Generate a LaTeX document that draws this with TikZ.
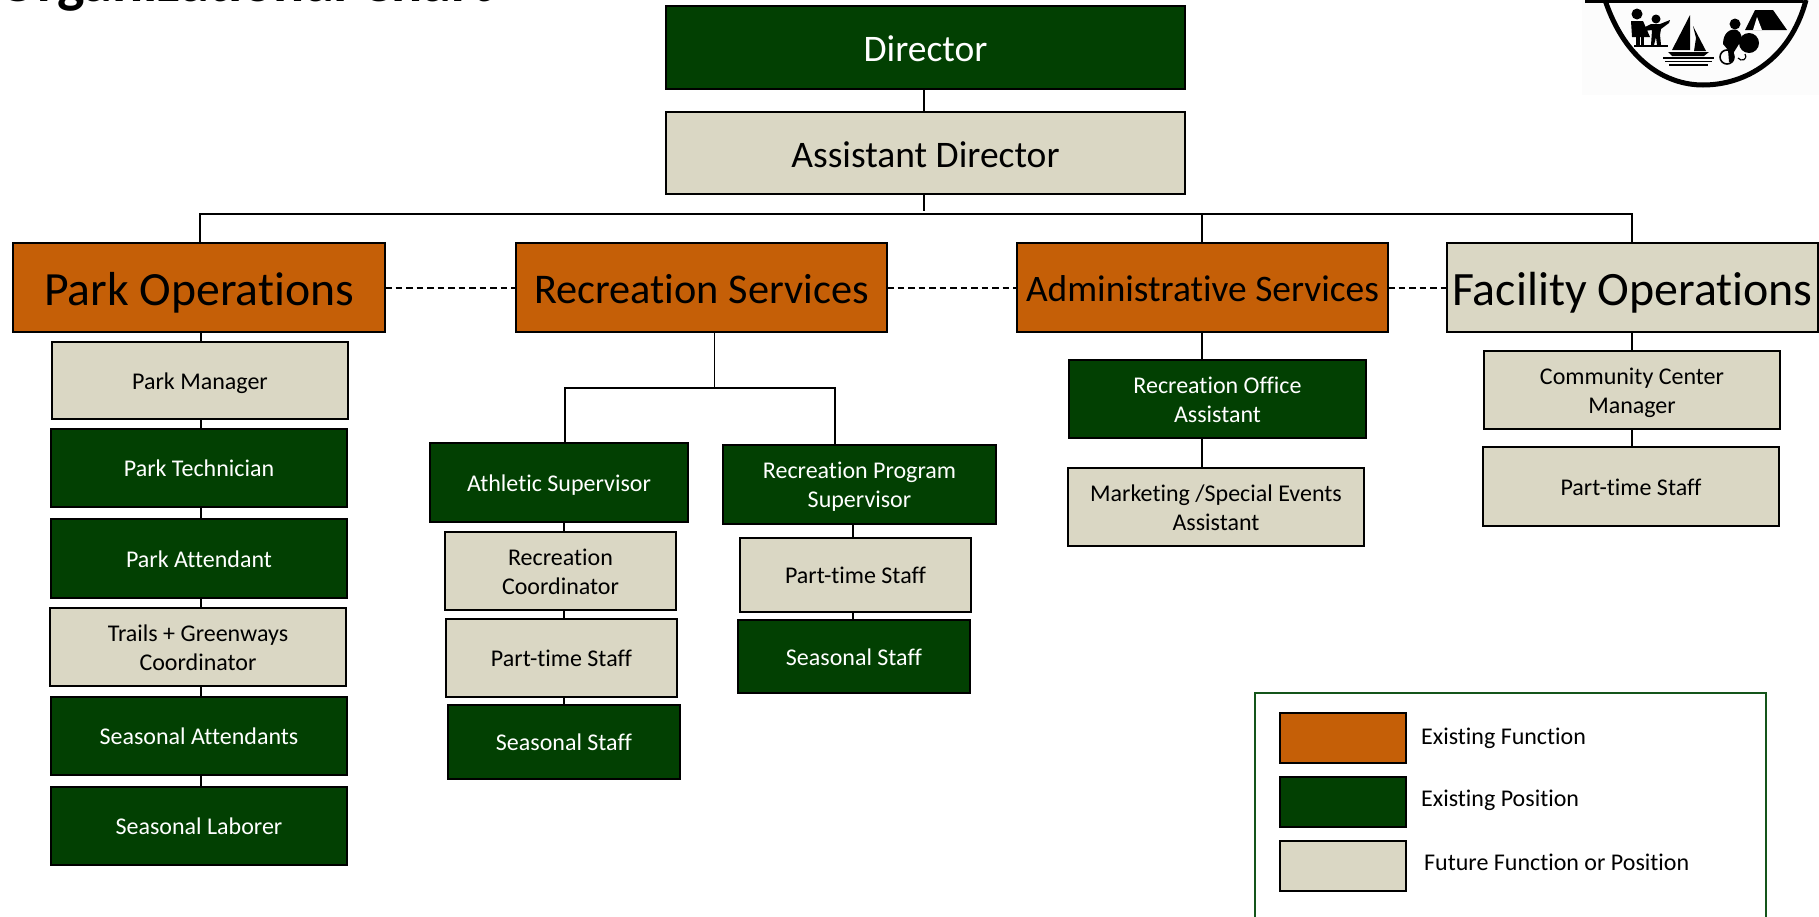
\documentclass[tikz,border=0pt]{standalone}
\usepackage{fontspec}
\setmainfont{Carlito}[Ligatures=NoCommon]
\definecolor{orangefn}{HTML}{C55F07}
\definecolor{greenpos}{HTML}{024002}
\definecolor{beigefut}{HTML}{DAD7C4}
\definecolor{legendline}{HTML}{14551A}
\newcommand\fsz[1]{\fontsize{#1}{#1}\selectfont}
\newcommand\orgbox[7]{\node[#2,minimum width={(#5-#3)*1pt},minimum height={(#6-#4)*1pt}] (#1) at ({(#3+#5)/2},{(#4+#6)/2}) {#7};}
\tikzset{
 base/.style={draw=black,line width=1.6pt,inner sep=0pt,outer sep=0pt,align=center,rectangle},
 bigtext/.style={font=\fsz{#1},text height={#1*.75pt},text depth=0pt},
 single/.style={text height=17pt,text depth=0pt},
 twoline/.style={text height=46.5pt,text depth=0pt},
 fnbox/.style={base,fill=orangefn,text=black},
 posbox/.style={base,fill=greenpos,text=white,font=\fontsize{24}{29}\selectfont,single},
 futbox/.style={base,fill=beigefut,text=black,font=\fontsize{24}{29}\selectfont,single},
 futbig/.style={base,fill=beigefut,text=black},
 posbig/.style={base,fill=greenpos,text=white},
 conn/.style={draw=black,line width=1.5pt},
 dashconn/.style={draw=black,line width=2pt,dash pattern=on 6.5pt off 4pt},
 legtext/.style={anchor=west,inner sep=0pt,font=\fontsize{24}{29}\selectfont,text=black,single},
}
\begin{document}
\begin{tikzpicture}[x=1pt,y=-1pt]
\clip (0,0) rectangle (1819,916);
% title
\node[anchor=base west,inner sep=0pt,font=\bfseries\fontsize{58}{58}\selectfont] (title) at (-2,1) {Organizational Chart};
% logo
\fill[black!1] (1582,0) rectangle (1819,95);
\fill[black] (1585,0) rectangle (1803,3);
\draw[line width=5pt] (1605,0) .. controls (1625,60) and (1665,85) .. (1703,85) .. controls (1745,85) and (1790,60) .. (1806,0);
\fill (1637,14) circle (5.5);
\fill (1631,21) -- (1643,21) -- (1650,37) -- (1632,37) -- cycle;
\fill (1636,37) rectangle (1640,46);
\fill (1641,37) rectangle (1644,46);
\fill (1634,45) rectangle (1668,47);
\fill (1656,19) circle (4.5);
\fill (1643,28) -- (1651,24) -- (1660,24) -- (1670,20) -- (1669,23) -- (1661,29) -- (1660,35) -- (1661,45) -- (1657,45) -- (1656,37) -- (1654,45) -- (1651,45) -- (1652,30) -- (1644,31) -- cycle;
\fill (1690,15) -- (1672,50) -- (1690,50) -- cycle;
\fill (1693,26) -- (1706,51) -- (1694,51) -- (1696,38) -- cycle;
\fill (1668,52) -- (1709,52) -- (1704,56) -- (1672,56) -- cycle;
\draw[line width=1.3pt] (1663,58) -- (1714,58) (1665,61.5) -- (1712,61.5) (1669,65) -- (1708,65);
\fill (1735,24) circle (5.5);
\fill (1723,44) .. controls (1723,33) and (1730,28) .. (1737,30) .. controls (1742,33) and (1743,38) .. (1739,44) -- (1734,52) -- (1733,62) -- (1729,62) -- (1728,50) -- cycle;
\fill (1749,43) circle (10);
\draw[line width=1.6pt] (1727,57) circle (7);
\draw[line width=1.2pt] (1745,54) .. controls (1748,60) and (1741,62) .. (1738,58);
\fill (1745,30) -- (1755,10) -- (1773,10) -- (1787,30) -- cycle;
\fill[white] (1753,30) -- (1757,17) -- (1762,30) -- cycle;
% top
\orgbox{director}{posbig,bigtext=37.5}{666}{6}{1185}{89}{Director}
\orgbox{asst}{futbig,bigtext=37.5}{666}{112}{1185}{194}{Assistant Director}
% functions
\orgbox{parkops}{fnbox,bigtext=47.7}{13}{243}{385}{332}{Park Operations}
\orgbox{recserv}{fnbox,bigtext=42.3}{516}{243}{887}{332}{Recreation Services}
\orgbox{admin}{fnbox,bigtext=37.4}{1017}{243}{1388}{332}{Administrative Services}
\orgbox{facility}{futbig,bigtext=47.9}{1447}{243}{1818}{332}{Facility Operations}
% park stack
\orgbox{parkmgr}{futbox}{52}{342}{348}{419}{Park Manager}
\orgbox{parktech}{posbox}{51}{429}{347}{507}{Park Technician}
\orgbox{parkatt}{posbox}{51}{519}{347}{598}{Park Attendant}
\orgbox{trails}{futbox,twoline}{50}{608}{346}{686}{Trails + Greenways\\Coordinator}
\orgbox{seasatt}{posbox}{51}{697}{347}{775}{Seasonal Attendants}
\orgbox{seaslab}{posbox}{51}{787}{347}{865}{Seasonal Laborer}
% recreation stacks
\orgbox{athletic}{posbox}{430}{443}{688}{522}{Athletic Supervisor}
\orgbox{reccoord}{futbox,twoline}{445}{532}{676}{610}{Recreation\\Coordinator}
\orgbox{ptone}{futbox}{446}{619}{677}{697}{Part-time Staff}
\orgbox{seasone}{posbox}{448}{705}{680}{779}{Seasonal Staff}
\orgbox{recprog}{posbox,twoline}{723}{445}{996}{524}{Recreation Program\\Supervisor}
\orgbox{pttwo}{futbox}{740}{538}{971}{612}{Part-time Staff}
\orgbox{seastwo}{posbox}{738}{620}{970}{693}{Seasonal Staff}
% admin stack
\orgbox{recoffice}{posbox,twoline}{1069}{360}{1366}{438}{Recreation Office\\Assistant}
\orgbox{marketing}{futbox,twoline}{1068}{468}{1364}{546}{Marketing /Special Events\\Assistant}
% facility stack
\orgbox{community}{futbox,twoline}{1484}{351}{1780}{429}{Community Center\\Manager}
\orgbox{ptthree}{futbox}{1483}{447}{1779}{526}{Part-time Staff}
% helper coordinates
\coordinate (busL) at (200,214);
\coordinate (busA) at (1202,214);
\coordinate (busR) at (1632,214);
\coordinate (trunkEnd) at (924,211);
\coordinate (recDrop) at (714,388);
\coordinate (recL) at (565,388);
\coordinate (recR) at (835,388);
\coordinate (xPark) at (201,0);
\coordinate (xAth) at (564,0);
\coordinate (xProg) at (853,0);
\coordinate (xFac) at (1632,0);
% connectors
\draw[conn] (trunkEnd |- director.south) -- (trunkEnd |- asst.north);
\draw[conn] (trunkEnd |- asst.south) -- (trunkEnd);
\draw[conn] (busL |- parkops.north) -- (busL) -- (busR) -- (busR |- facility.north);
\draw[conn] (busA) -- (busA |- admin.north);
\draw[dashconn] (parkops.east) -- (parkops.east -| recserv.west);
\draw[dashconn] (recserv.east) -- (recserv.east -| admin.west);
\draw[dashconn] (admin.east) -- (admin.east -| facility.west);
\draw[conn,line width=1pt] (recDrop |- recserv.south) -- (recDrop);
\draw[conn] (recL |- athletic.north) -- (recL) -- (recR) -- (recR |- recprog.north);
\draw[conn] (xPark |- parkops.south) -- (xPark |- parkmgr.north);
\draw[conn] (xPark |- parkmgr.south) -- (xPark |- parktech.north);
\draw[conn] (xPark |- parktech.south) -- (xPark |- parkatt.north);
\draw[conn] (xPark |- parkatt.south) -- (xPark |- trails.north);
\draw[conn] (xPark |- trails.south) -- (xPark |- seasatt.north);
\draw[conn] (xPark |- seasatt.south) -- (xPark |- seaslab.north);
\draw[conn] (xAth |- athletic.south) -- (xAth |- reccoord.north);
\draw[conn] (xAth |- reccoord.south) -- (xAth |- ptone.north);
\draw[conn] (xAth |- ptone.south) -- (xAth |- seasone.north);
\draw[conn] (xProg |- recprog.south) -- (xProg |- pttwo.north);
\draw[conn] (xProg |- pttwo.south) -- (xProg |- seastwo.north);
\draw[conn] (busA |- admin.south) -- (busA |- recoffice.north);
\draw[conn] (busA |- recoffice.south) -- (busA |- marketing.north);
\draw[conn] (xFac |- facility.south) -- (xFac |- community.north);
\draw[conn] (xFac |- community.south) -- (xFac |- ptthree.north);
% legend
\draw[draw=legendline,line width=2.2pt] (1255,930) -- (1255,693) -- (1766,693) -- (1766,930);
\orgbox{legA}{fnbox}{1280}{713}{1406}{763}{}
\orgbox{legB}{posbox}{1280}{777}{1406}{827}{}
\orgbox{legC}{futbox}{1280}{841}{1406}{891}{}
\node[legtext] (legAt) at (1421,736) {Existing Function};
\node[legtext] (legBt) at (1421,798) {Existing Position};
\node[legtext] (legCt) at (1424,862) {Future Function or Position};
\end{tikzpicture}
\end{document}
